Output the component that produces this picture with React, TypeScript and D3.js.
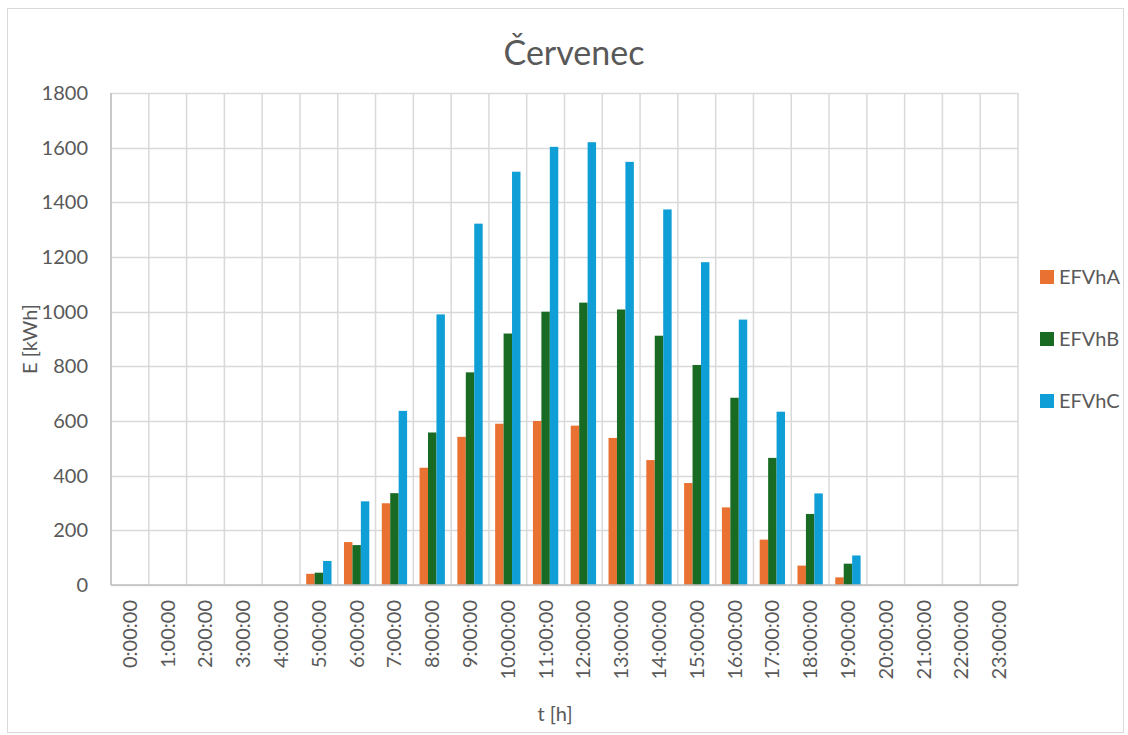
import React from "react";
import * as d3 from "d3";

const hours = d3.range(0, 24).map((h) => `${h}:00:00`);
const seriesNames = ["EFVhA", "EFVhB", "EFVhC"];
const efvhA = [0, 0, 0, 0, 0, 41, 157, 299, 429, 542, 590, 600, 583, 538, 457, 373, 284, 166, 71, 28, 0, 0, 0, 0];
const efvhB = [0, 0, 0, 0, 0, 45, 146, 336, 558, 778, 920, 1000, 1033, 1008, 912, 805, 685, 465, 260, 78, 0, 0, 0, 0];
const efvhC = [0, 0, 0, 0, 0, 88, 306, 637, 990, 1322, 1512, 1603, 1620, 1548, 1374, 1181, 971, 634, 335, 108, 0, 0, 0, 0];
const yTicks = [0, 200, 400, 600, 800, 1000, 1200, 1400, 1600, 1800];
const colors = ["#E97132", "#196B24", "#0F9ED5"];

const W = 1128;
const H = 735;
const FONT = "Lato, 'Open Sans', sans-serif";
const TXT = "#595959";

export default function App() {
  const left = 111, right = 1018, top = 93, bottom = 585;
  const x = d3.scaleBand<string>().domain(hours).range([left, right]).paddingInner(0.33).paddingOuter(0.165);
  const xCat = d3.scaleBand<string>().domain(hours).range([left, right]);
  const xs = d3.scaleBand<string>().domain(seriesNames).range([0, x.bandwidth()]);
  const y = d3.scaleLinear().domain([0, 1800]).range([bottom, top]);
  const data = [efvhA, efvhB, efvhC];

  return (
    <svg width={W} height={H} style={{ position: "absolute", left: 0, top: 0 }} fontFamily={FONT}>
      <rect x={0} y={0} width={W} height={H} fill="#fff" />
      <rect x={7.5} y={8.5} width={1116} height={724} fill="none" stroke="#D9D9D9" />
      <text x={574} y={65} textAnchor="middle" fontSize={34} fill={TXT}>Červenec</text>
      {yTicks.map((t) => (
        <g key={t}>
          <line x1={left} x2={right} y1={Math.round(y(t)) + 0.5} y2={Math.round(y(t)) + 0.5} stroke="#D9D9D9" strokeWidth={1.5} />
          <text x={88} y={y(t)} dy="0.35em" textAnchor="end" fontSize={20} fill={TXT}>{t}</text>
        </g>
      ))}
      {hours.map((h) => (
        <line key={"v" + h} x1={xCat(h) as number} x2={xCat(h) as number} y1={top} y2={bottom} stroke="#D9D9D9" strokeWidth={1.5} />
      ))}
      <line x1={right} x2={right} y1={top} y2={bottom} stroke="#D9D9D9" strokeWidth={1.5} />
      <line x1={left} x2={left} y1={top} y2={bottom} stroke="#BFBFBF" strokeWidth={1.5} />
      {data.map((vals, si) =>
        vals.map((v, i) => (
          <rect
            key={si + "-" + i}
            x={(x(hours[i]) as number) + (xs(seriesNames[si]) as number)}
            y={y(v)}
            width={xs.bandwidth()}
            height={bottom - y(v)}
            fill={colors[si]}
          />
        ))
      )}
      <line x1={left} x2={right} y1={bottom} y2={bottom} stroke="#BFBFBF" strokeWidth={1.5} />
      {hours.map((h) => {
        const cx = (xCat(h) as number) + xCat.bandwidth() / 2;
        return (
          <text key={"l" + h} transform={`translate(${cx},${600}) rotate(-90)`} dy="0.35em" textAnchor="end" fontSize={20} fill={TXT}>
            {h}
          </text>
        );
      })}
      <text x={555} y={721} textAnchor="middle" fontSize={20} fill={TXT}>t [h]</text>
      <text transform={`translate(37,339) rotate(-90)`} textAnchor="middle" fontSize={20} fill={TXT}>E [kWh]</text>
      {seriesNames.map((s, i) => (
        <g key={s}>
          <rect x={1040} y={270 + i * 62} width={14} height={14} fill={colors[i]} />
          <text x={1059} y={277 + i * 62} dy="0.35em" fontSize={20} fill={TXT}>{s}</text>
        </g>
      ))}
    </svg>
  );
}
